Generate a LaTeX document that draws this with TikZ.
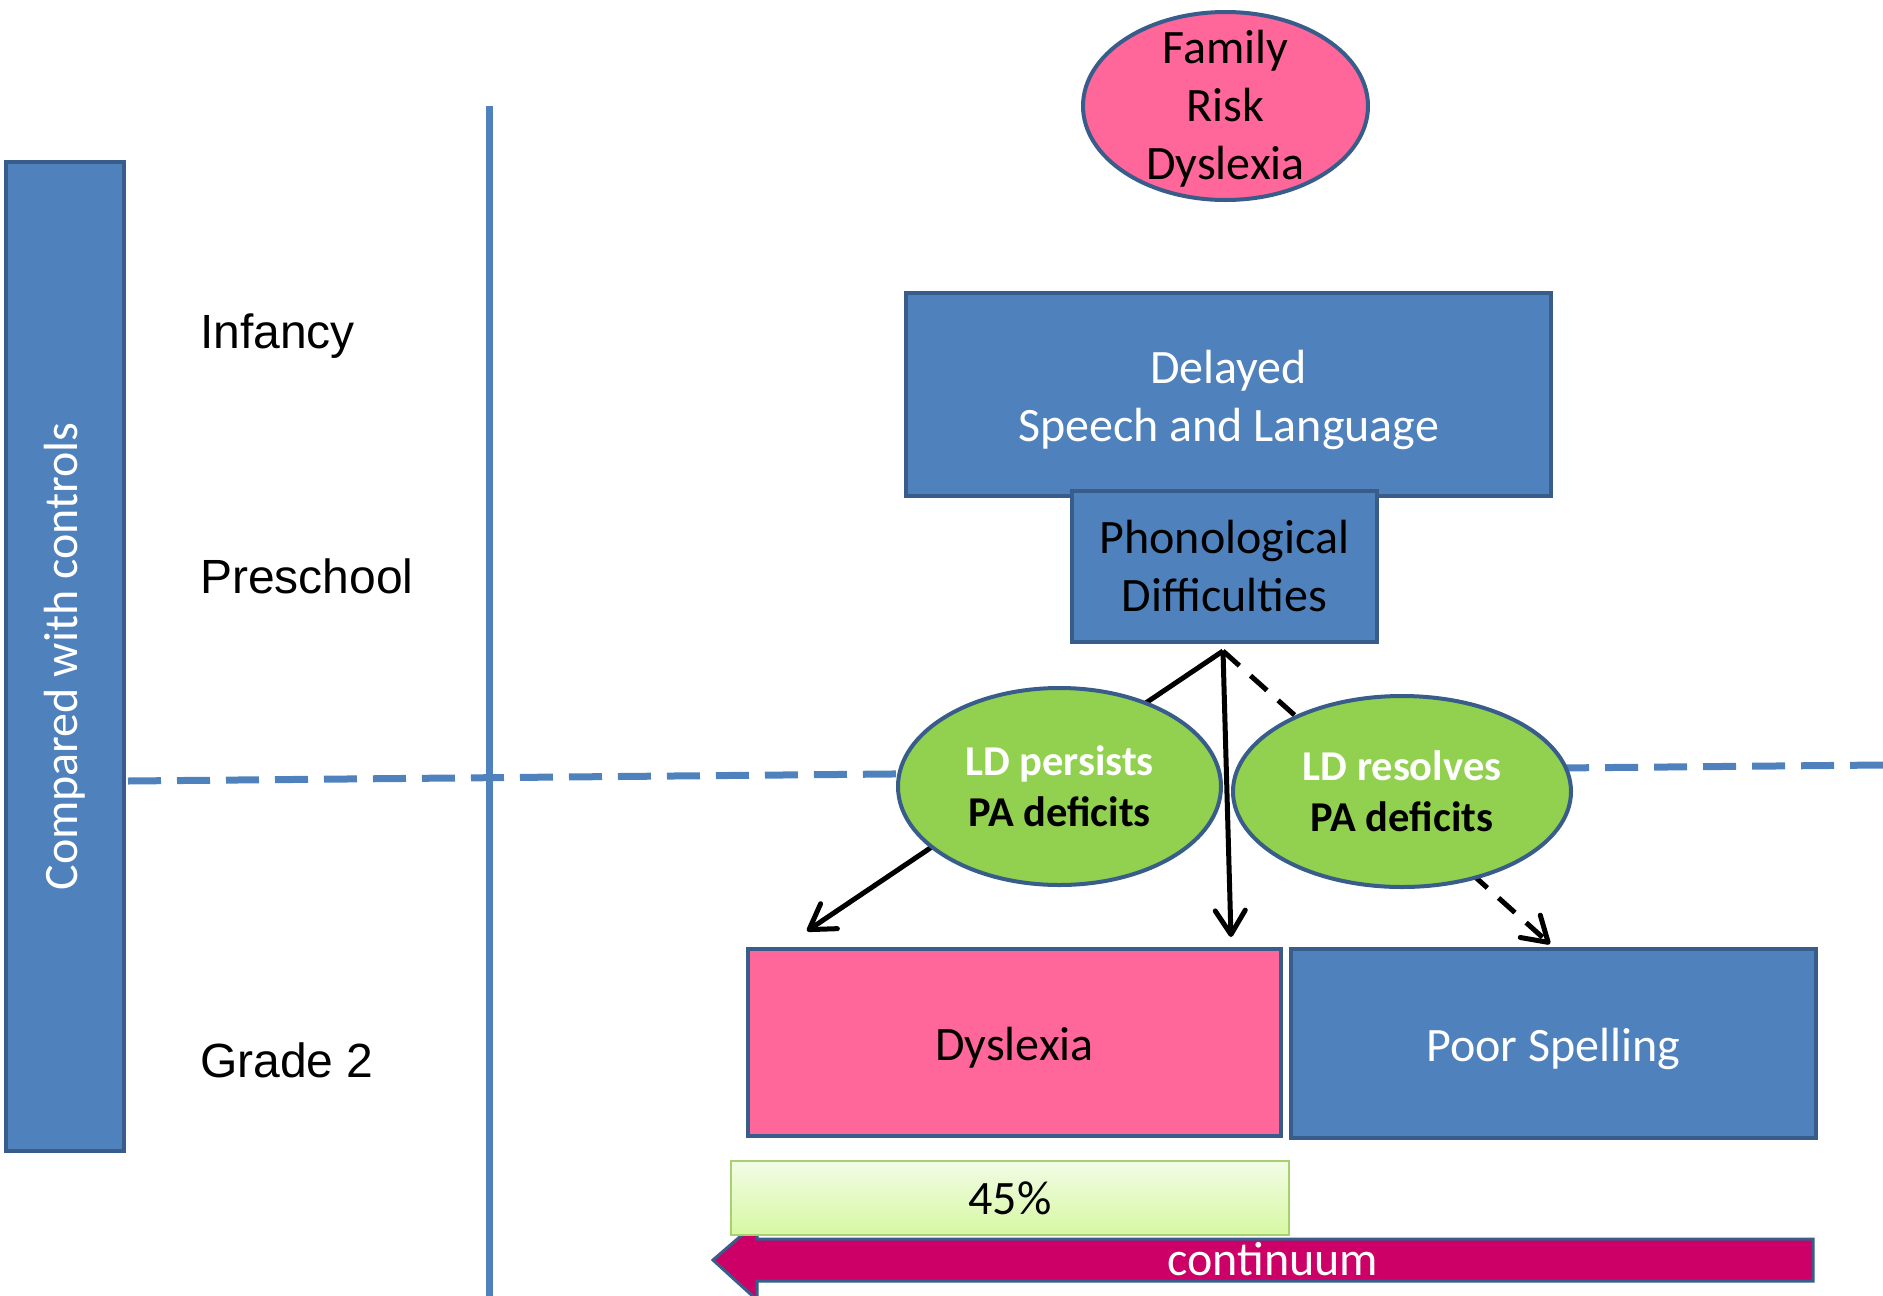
\documentclass[tikz,border=0pt]{standalone}
\usepackage{fontspec}
\setmainfont{Carlito}
\newfontfamily\arialfont{Liberation Sans}
\usetikzlibrary{shapes.geometric,arrows.meta}
\definecolor{boxblue}{HTML}{4F81BD}
\definecolor{edgeblue}{HTML}{385D8A}
\definecolor{riskpink}{HTML}{FF6699}
\definecolor{ldgreen}{HTML}{92D050}
\definecolor{contmag}{HTML}{CC0066}
\definecolor{pcttop}{HTML}{F2FCE6}
\definecolor{pctbot}{HTML}{D6F8A2}
\definecolor{pctedge}{HTML}{A8CF70}
\begin{document}
\begin{tikzpicture}[x=1pt,y=-1pt,
  basebox/.style={draw=edgeblue, line width=4pt, inner sep=0pt, align=center,
    font=\fontsize{48}{58}\selectfont},
  bluebox/.style={basebox, fill=boxblue, text=white},
  pinkbox/.style={basebox, fill=riskpink, text=black},
  boxtext/.style={inner sep=0pt, align=center, font=\fontsize{48}{58}\selectfont},
  ldell/.style={basebox, ellipse, fill=ldgreen, font=\fontsize{42.5}{51}\selectfont\bfseries},
  stage/.style={font=\arialfont\fontsize{48}{58}\selectfont, anchor=base west, inner sep=0pt},
  conn/.style={line width=5pt, -{Straight Barb[length=24pt,width=30pt,line width=5pt,round]}},
  guide/.style={draw=boxblue, line width=7pt},
]
\useasboundingbox (0,0) rectangle (1883,1296);

% guide lines
\draw[guide, dash pattern=on 33pt off 16pt] (128,781) -- (1000,773);
\draw[guide, dash pattern=on 33pt off 16pt] (1883,765) -- (1450,769);
\draw[guide] (489,106) -- (489,1296);

% left bar
\node[bluebox, rotate=90, minimum width=989pt, minimum height=118pt] (bar) at (65,656.5) {Compared with controls};

% stage labels
\node[stage] (inf) at (200,348) {Infancy};
\node[stage] (pre) at (200,593) {Preschool};
\node[stage] (gr2) at (200,1077) {Grade 2};

% top nodes
\node[pinkbox, ellipse, minimum width=285pt, minimum height=188pt] (fam) at (1225.5,106) {};
\node[boxtext] (famt) at (1225.5,109) {Family\\Risk\\Dyslexia};
\node[bluebox, minimum width=645pt, minimum height=203pt] (del) at (1228.5,394.5) {};
\node[boxtext, text=white] (delt) at (1228.5,400) {Delayed\\Speech and Language};
\node[bluebox, text=black, minimum width=305pt, minimum height=151pt] (phon) at (1224.5,566.5) {Phonological\\Difficulties};

% connectors (behind ellipses)
\coordinate (apex) at (1223,651);
\coordinate (tipA) at (807,931);
\coordinate (tipB) at (1231,937);
\coordinate (tipC) at (1550,944);
\draw[conn] (apex) -- (tipA);
\draw[conn, dash pattern=on 22pt off 15pt] (apex) -- (tipC);

% LD ellipses
\node[ldell, minimum width=323pt, minimum height=197pt] (pers) at (1059.5,786.5) {\textcolor{white}{LD persists}\\PA deficits};
\node[ldell, minimum width=338pt, minimum height=191pt] (reso) at (1402,791.5) {\textcolor{white}{LD resolves}\\PA deficits};

% vertical connector (over ellipse edges)
\draw[conn] (apex) -- (tipB);

% outcome boxes
\node[pinkbox, minimum width=533pt, minimum height=187pt] (dys) at (1014.5,1042.5) {};
\node[boxtext] (dyst) at (1014.5,1048) {Dyslexia};
\node[bluebox, minimum width=525pt, minimum height=189pt] (poor) at (1553.5,1043.5) {};
\node[boxtext, text=white] (poort) at (1553.5,1049) {Poor Spelling};

% continuum arrow
\draw[draw=edgeblue, line width=3pt, fill=contmag, line join=miter]
  (1813,1239) -- (757,1239) -- (757,1222) -- (713,1260) -- (757,1300) -- (757,1281) -- (1813,1281) -- cycle;
\node[font=\fontsize{48}{58}\selectfont, text=white, anchor=base, inner sep=0pt] (cont) at (1273,1275) {continuum};

% percentage box
\node[draw=pctedge, line width=2pt, top color=pcttop, bottom color=pctbot, inner sep=0pt,
  minimum width=558pt, minimum height=74pt, font=\fontsize{48}{58}\selectfont] (pct) at (1010,1198) {45\%};
\end{tikzpicture}
\end{document}
